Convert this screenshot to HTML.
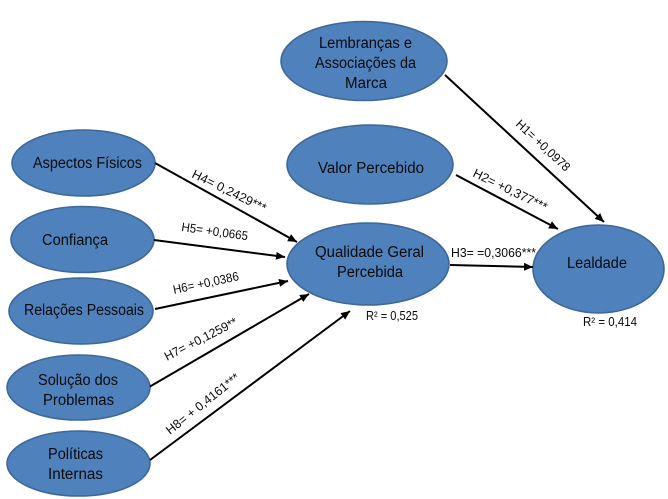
<!DOCTYPE html>
<html><head><meta charset="utf-8"><style>html,body{margin:0;padding:0;background:#fff;width:668px;height:499px;overflow:hidden}svg{display:block}text{font-family:"Liberation Sans",sans-serif;fill:#0a0a0a}.n text{font-size:15.5px}.l text{font-size:12.5px}ellipse{fill:#4f81bd;stroke:#3d6897;stroke-width:1.6}line{stroke:#000;stroke-width:2}</style></head><body>
<svg width="668" height="499" viewBox="0 0 668 499" xmlns="http://www.w3.org/2000/svg">
<defs><marker id="a" markerUnits="userSpaceOnUse" markerWidth="10" markerHeight="9" refX="9" refY="4" orient="auto"><path d="M0 0L9 4L0 8Z" fill="#000"/></marker></defs>
<ellipse cx="83.5" cy="163" rx="71.5" ry="33"/>
<ellipse cx="82.5" cy="239.5" rx="71.5" ry="33"/>
<ellipse cx="81" cy="311" rx="72" ry="33"/>
<ellipse cx="78.5" cy="387.5" rx="71.5" ry="32.5"/>
<ellipse cx="78.5" cy="463.5" rx="71.5" ry="32.5"/>
<ellipse cx="364" cy="61" rx="83" ry="39.5"/>
<ellipse cx="370" cy="164.5" rx="83" ry="39.5"/>
<ellipse cx="368" cy="264" rx="81" ry="41"/>
<ellipse cx="598.5" cy="269" rx="65.5" ry="44"/>
<line x1="155" y1="163" x2="297" y2="242" marker-end="url(#a)"/>
<line x1="154" y1="240" x2="285" y2="257" marker-end="url(#a)"/>
<line x1="155" y1="309" x2="288" y2="281" marker-end="url(#a)"/>
<line x1="150" y1="386.5" x2="309" y2="294" marker-end="url(#a)"/>
<line x1="150" y1="460" x2="350" y2="311" marker-end="url(#a)"/>
<line x1="445" y1="75" x2="604" y2="222" marker-end="url(#a)"/>
<line x1="456" y1="175" x2="558" y2="229" marker-end="url(#a)"/>
<line x1="450" y1="265" x2="533" y2="267" marker-end="url(#a)"/>
<g class="n">
<text x="33" y="168" textLength="109" lengthAdjust="spacingAndGlyphs">Aspectos Físicos</text>
<text x="42" y="245" textLength="66" lengthAdjust="spacingAndGlyphs">Confiança</text>
<text x="24" y="315" textLength="120" lengthAdjust="spacingAndGlyphs">Relações Pessoais</text>
<text x="38" y="385" textLength="80" lengthAdjust="spacingAndGlyphs">Solução dos</text>
<text x="43" y="405" textLength="71" lengthAdjust="spacingAndGlyphs">Problemas</text>
<text x="48" y="459" textLength="55" lengthAdjust="spacingAndGlyphs">Políticas</text>
<text x="48" y="479" textLength="55" lengthAdjust="spacingAndGlyphs">Internas</text>
<text x="319" y="48" textLength="93" lengthAdjust="spacingAndGlyphs">Lembranças e</text>
<text x="315" y="68" textLength="101" lengthAdjust="spacingAndGlyphs">Associações da</text>
<text x="345" y="88" textLength="42" lengthAdjust="spacingAndGlyphs">Marca</text>
<text x="318" y="173" textLength="106" lengthAdjust="spacingAndGlyphs">Valor Percebido</text>
<text x="315" y="257" textLength="109" lengthAdjust="spacingAndGlyphs">Qualidade Geral</text>
<text x="337" y="277" textLength="66" lengthAdjust="spacingAndGlyphs">Percebida</text>
<text x="567" y="268" textLength="60" lengthAdjust="spacingAndGlyphs">Lealdade</text>
</g>
<g class="l">
<text x="366" y="320" textLength="52" lengthAdjust="spacingAndGlyphs">R² = 0,525</text>
<text x="583" y="326" textLength="54" lengthAdjust="spacingAndGlyphs">R² = 0,414</text>
<text x="451" y="257" textLength="85" lengthAdjust="spacingAndGlyphs">H3= =0,3066***</text>
<text transform="translate(191 177) rotate(26)" textLength="81" lengthAdjust="spacingAndGlyphs">H4= 0,2429***</text>
<text transform="translate(181 231) rotate(8)" textLength="67" lengthAdjust="spacingAndGlyphs">H5= +0,0665</text>
<text transform="translate(174 294) rotate(-12)" textLength="67" lengthAdjust="spacingAndGlyphs">H6= +0,0386</text>
<text transform="translate(167 361) rotate(-27)" textLength="80" lengthAdjust="spacingAndGlyphs">H7= +0,1259**</text>
<text transform="translate(170 435) rotate(-38.5)" textLength="90" lengthAdjust="spacingAndGlyphs">H8= + 0,4161***</text>
<text transform="translate(515 125) rotate(43)" textLength="69" lengthAdjust="spacingAndGlyphs">H1= +0,0978</text>
<text transform="translate(472 176) rotate(26)" textLength="81" lengthAdjust="spacingAndGlyphs">H2= +0,377***</text>
</g>
</svg>
</body></html>
